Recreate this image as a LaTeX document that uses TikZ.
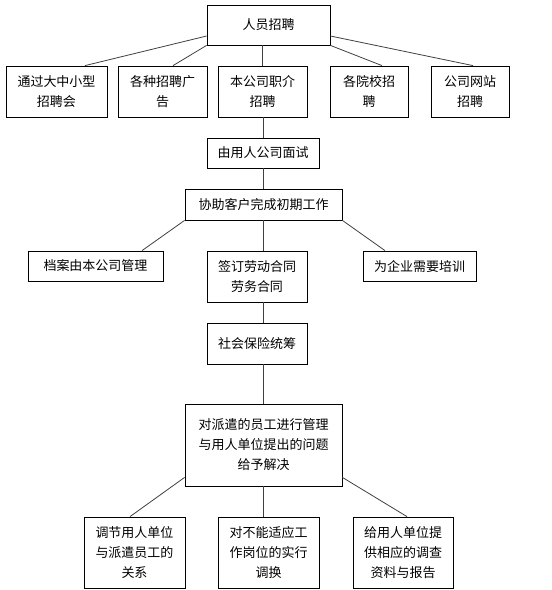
\documentclass[tikz,border=0pt]{standalone}
\usepackage{fontspec}
\newfontfamily\cjk{Noto Sans CJK SC}
\usepackage{tikz}
\usetikzlibrary{positioning}

\begin{document}
\begin{tikzpicture}[x=1pt, y=-1pt,
    every node/.style={font=\cjk\fontsize{13}{20}\selectfont, align=center, inner sep=0pt},
    box/.style={draw=black, line width=0.8pt, fill=white},
    link/.style={draw=black!75, line width=0.8pt}]

\useasboundingbox (0,0) rectangle (552,590);

% recruiting
\node[box, minimum width=123pt, minimum height=40pt] (recruit) at (268.5,25) {人员招聘};
\node[box, minimum width=101pt, minimum height=51pt] (fairs) at (56.5,91.5) {通过大中小型\\招聘会};
\node[box, minimum width=89pt, minimum height=51pt] (ads) at (162.5,91.5) {各种招聘广\\告};
\node[box, minimum width=89pt, minimum height=51pt] (agency) at (262.5,91.5) {本公司职介\\招聘};
\node[box, minimum width=78pt, minimum height=51pt] (campus) at (369,91.5) {各院校招\\聘};
\node[box, minimum width=78pt, minimum height=51pt] (website) at (470,91.5) {公司网站\\招聘};

% after recruiting
\node[box, minimum width=112pt, minimum height=30pt] (interview) at (263,153) {由用人公司面试};
\node[box, minimum width=157pt, minimum height=31pt] (assist) at (263.5,204.5) {协助客户完成初期工作};
\node[box, minimum width=135pt, minimum height=30pt] (archive) at (95.5,266) {档案由本公司管理};
\node[box, minimum width=100pt, minimum height=51pt] (contract) at (257,276.5) {签订劳动合同\\劳务合同};
\node[box, minimum width=113pt, minimum height=30pt] (training) at (419.5,266) {为企业需要培训};
\node[box, minimum width=100pt, minimum height=41pt] (insurance) at (257,343.5) {社会保险统筹};

% management
\node[box, minimum width=157pt, minimum height=82pt] (manage) at (263.5,445) {对派遣的员工进行管理\\与用人单位提出的问题\\给予解决};
\node[box, minimum width=101pt, minimum height=71pt] (relation) at (134.5,552.5) {调节用人单位\\与派遣员工的\\关系};
\node[box, minimum width=101pt, minimum height=71pt] (transfer) at (268.5,552.5) {对不能适应工\\作岗位的实行\\调换};
\node[box, minimum width=100pt, minimum height=71pt] (report) at (403,552.5) {给用人单位提\\供相应的调查\\资料与报告};

% connectors
\draw[link] ([yshift=-11pt]recruit.west) -- ([xshift=28.5pt]fairs.north);
\draw[link] (recruit.south west) -- ([xshift=10.5pt]ads.north);
\draw[link] (agency.north |- recruit.south) -- (agency.north);
\draw[link] (recruit.south east) -- ([xshift=13pt]campus.north);
\draw[link] ([yshift=-11pt]recruit.east) -- ([xshift=3pt]website.north);
\draw[link] (agency.south) -- (agency.south -| interview.north) -- (interview.north);
\draw[link] (interview.south) -- (interview.south |- assist.north);
\draw[link] (assist.south west) -- ([xshift=46.5pt]archive.north);
\draw[link] (assist.south) -- (assist.south |- contract.north);
\draw[link] (assist.south east) -- ([xshift=-34.5pt]training.north);
\draw[link] (assist.south |- contract.south) -- (assist.south |- insurance.north);
\draw[link] (manage.north |- insurance.south) -- (manage.north);
\draw[link] ([yshift=9pt]manage.south west) -- ([xshift=-4.5pt]relation.north);
\draw[link] (manage.south) -- (manage.south |- transfer.north);
\draw[link] ([yshift=9pt]manage.south east) -- ([xshift=4pt]report.north);

\end{tikzpicture}
\end{document}
